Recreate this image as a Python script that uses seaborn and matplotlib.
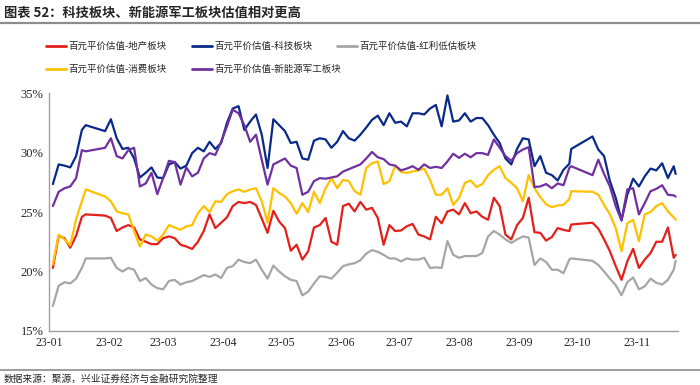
import matplotlib
matplotlib.use('Agg')
import matplotlib.pyplot as plt
import matplotlib.dates as mdates
from matplotlib.lines import Line2D
import pandas as pd
import seaborn as sns

# x grid: trading dates (holiday gaps give the flat runs)
dates = (list(pd.to_datetime(['2023-01-03', '2023-01-06', '2023-01-09', '2023-01-12',
                               '2023-01-15', '2023-01-18', '2023-01-20']))
         + list(pd.date_range('2023-01-30', '2023-09-27', freq='3D'))
         + [pd.Timestamp('2023-09-28')]
         + list(pd.date_range('2023-10-09', '2023-11-20', freq='3D'))
         + [pd.Timestamp('2023-11-21')])

# values in %
property_vals = [20.3, 23.0, 22.8, 22.0, 23.0, 24.6, 24.8,
                 24.7, 24.5, 23.4, 23.7, 23.9, 23.7, 22.7, 22.5, 22.3, 22.3,
                 22.8, 22.95, 22.8, 22.25, 22.1, 21.9, 22.5, 23.4,
                 24.8, 23.65, 24.1, 24.55, 25.5, 25.85, 25.75, 25.85, 25.6, 24.45,
                 23.25, 25.1, 24.2, 23.65, 21.75, 22.25, 21.0, 21.7, 23.7, 23.9,
                 24.5, 22.5, 22.25, 25.5, 25.7, 25.05,
                 25.85, 25.2, 25.35, 24.5, 22.25, 23.9, 23.4, 23.45, 23.8, 24.0,
                 23.1, 22.95, 22.7, 24.6, 24.05, 25.05, 25.2, 24.8, 25.75, 24.9,
                 25.05, 24.6, 24.35, 26.2, 25.5, 23.1, 22.7,
                 23.9, 24.5, 26.2, 23.3, 23.25, 22.6, 22.9, 23.65, 23.5, 23.4,
                 23.95, 24.1, 23.6, 22.7, 21.7, 20.45, 19.3, 20.85, 21.9, 20.3,
                 21.0, 21.55, 22.5, 22.5, 23.7, 21.15, 21.4]
tech_vals = [27.35, 29.0, 28.9, 28.75, 29.7, 31.9, 32.3,
             31.8, 32.8, 31.2, 30.3, 30.4, 29.5, 27.9, 28.3, 28.75, 27.9,
             27.85, 29.0, 29.2, 28.65, 28.9, 29.95, 30.4, 30.1,
             30.9, 30.3, 30.8, 32.5, 33.7, 33.9, 31.9, 32.6, 33.2, 31.5,
             28.7, 32.8, 32.3, 31.8, 30.8, 30.9, 29.5, 29.4, 31.0, 31.2,
             31.1, 30.4, 30.9, 31.8, 31.2, 31.0,
             31.5, 32.1, 32.75, 33.1, 32.3, 33.3, 32.5, 32.6, 32.2, 33.3,
             33.3, 33.2, 33.7, 34.0, 32.2, 34.8, 32.6, 32.7, 33.3, 32.6,
             32.9, 32.9, 32.3, 31.5, 30.8, 29.5, 29.0,
             30.3, 31.2, 31.1, 28.85, 29.7, 28.3, 28.1, 27.65, 28.55, 29.05,
             30.3, 31.35, 30.25, 29.7, 27.6, 26.2, 24.3, 26.45, 27.8, 27.15,
             28.0, 28.65, 28.5, 29.1, 27.85, 28.85, 28.2]
dividend_vals = [17.1, 18.8, 19.1, 19.0, 19.4, 20.3, 21.1,
                 21.1, 21.15, 20.3, 20.0, 20.3, 20.15, 19.2, 19.45, 18.9, 18.6,
                 18.5, 19.2, 19.3, 18.9, 19.1, 19.2, 19.45, 19.7,
                 19.55, 19.75, 19.45, 20.3, 20.45, 21.0, 20.8, 20.7, 21.0, 20.15,
                 19.4, 20.5, 20.0, 19.6, 19.3, 19.2, 18.0, 18.3, 19.0, 19.6,
                 19.55, 19.4, 19.9, 20.45, 20.6, 20.7,
                 20.95, 21.5, 21.8, 21.65, 21.4, 21.1, 21.1, 20.85, 21.1, 21.0,
                 21.0, 21.15, 20.3, 20.35, 20.3, 22.55, 21.4, 21.15, 21.3, 21.3,
                 21.3, 21.55, 22.95, 23.4, 23.1, 22.7, 22.4,
                 22.7, 22.95, 22.85, 20.55, 21.1, 20.8, 20.15, 20.15, 19.85, 21.0,
                 21.1, 20.9, 20.55, 20.0, 19.4, 18.85, 18.0, 19.1, 19.5, 18.5,
                 18.75, 19.4, 19.05, 18.9, 19.3, 20.15, 20.9]
consumer_vals = [20.6, 23.1, 22.7, 22.2, 24.4, 25.9, 26.9,
                 26.3, 25.9, 25.05, 24.9, 24.8, 23.4, 22.1, 23.1, 22.95, 22.6,
                 23.1, 23.9, 23.7, 23.5, 23.8, 23.9, 24.9, 25.5,
                 25.0, 25.9, 25.85, 26.5, 26.75, 26.9, 26.7, 26.9, 27.0, 25.9,
                 24.1, 27.0, 26.6, 26.3, 25.75, 24.85, 25.75, 25.0, 26.7, 25.75,
                 27.0, 27.85, 27.0, 27.7, 27.6, 26.75,
                 26.45, 28.7, 29.1, 29.25, 27.35, 27.6, 28.9, 28.35, 28.3, 28.4,
                 28.5, 28.65, 27.7, 26.45, 26.45, 27.0, 25.6, 26.2, 27.45, 27.65,
                 27.1, 27.35, 28.1, 28.55, 28.85, 27.85, 27.45,
                 27.0, 25.9, 28.1, 27.0, 26.25, 25.65, 25.4, 25.55, 25.6, 26.1,
                 26.75, 26.7, 26.45, 25.6, 24.8, 23.65, 21.7, 24.05, 24.35, 22.55,
                 24.8, 25.0, 25.5, 25.75, 25.05, 24.55, 24.35]
newenergy_vals = [25.5, 26.7, 27.0, 27.15, 27.85, 30.2, 30.1,
                  30.4, 31.2, 29.7, 29.5, 30.2, 30.4, 27.15, 27.4, 28.3, 26.5,
                  27.85, 29.3, 29.2, 27.3, 28.75, 28.0, 28.3, 29.5,
                  29.95, 29.8, 30.9, 32.2, 33.6, 33.3, 32.3, 30.9, 31.5, 29.4,
                  27.3, 29.0, 29.25, 29.5, 28.9, 28.7, 26.45, 26.7, 27.6, 27.85,
                  27.8, 27.9, 28.0, 28.4, 28.6, 28.8,
                  29.0, 29.5, 30.05, 29.6, 29.45, 29.0, 28.9, 28.5, 28.65, 28.85,
                  28.55, 29.0, 28.7, 28.8, 28.7, 29.25, 29.9, 29.55, 29.9, 29.6,
                  29.95, 29.95, 29.8, 31.1, 30.4, 29.7, 29.3,
                  29.95, 30.25, 30.45, 27.1, 27.15, 27.35, 27.0, 27.4, 27.25, 28.7,
                  28.85, 28.1, 29.4, 28.2, 27.15, 25.5, 24.3, 26.9, 27.0, 24.8,
                  25.75, 26.75, 26.95, 27.25, 26.45, 26.4, 26.3]

series_names = ['百元平价估值-地产板块', '百元平价估值-科技板块', '百元平价估值-红利低估板块',
                '百元平价估值-消费板块', '百元平价估值-新能源军工板块']
series_vals = [property_vals, tech_vals, dividend_vals, consumer_vals, newenergy_vals]
colors = ['#E3201B', '#0A2A8A', '#A6A6A6', '#FFC000', '#7030A0']

sns.set_style('white')
plt.rcParams['font.family'] = ['Noto Sans CJK SC', 'DejaVu Sans']
num_font = ['Liberation Serif', 'Noto Sans CJK SC']

fig = plt.figure(figsize=(7, 3.85), dpi=100)
ax = fig.add_axes([0.07, 0.1403, 0.898, 0.618])

for name, vals, c in zip(series_names, series_vals, colors):
    sns.lineplot(x=dates, y=vals, ax=ax, color=c, linewidth=1.6, label=name, legend=False)

ax.set_ylim(15, 35)
ax.set_yticks([15, 20, 25, 30, 35])
ax.set_yticklabels([f'{v}%' for v in [15, 20, 25, 30, 35]], family=num_font, fontsize=9)
ax.set_xlim(pd.Timestamp('2023-01-01'), pd.Timestamp('2023-11-22'))
ax.xaxis.set_major_locator(mdates.MonthLocator())
ax.xaxis.set_major_formatter(mdates.DateFormatter('%y-%m'))
for lab in ax.get_xticklabels():
    lab.set_family(num_font)
    lab.set_fontsize(8.5)
ax.tick_params(axis='both', direction='in', length=3, color='#A0A0A0', pad=4)
ax.tick_params(axis='y', length=0)
ax.set_xlabel('')
ax.set_ylabel('')
for s in ['top', 'right']:
    ax.spines[s].set_visible(False)
for s in ['left', 'bottom']:
    ax.spines[s].set_color('#A0A0A0')
    ax.spines[s].set_linewidth(1)

# legend, two rows laid out like the original
handles = [Line2D([], [], color=c, lw=2) for c in colors]
leg_kw = dict(frameon=False, fontsize=6.8, handlelength=2.1, handletextpad=0.3,
              columnspacing=2.6, borderaxespad=0, borderpad=0, loc='center left')
fig.legend(handles[:3], series_names[:3], ncol=3, bbox_to_anchor=(0.066, 0.879), **leg_kw)
fig.legend(handles[3:], series_names[3:], ncol=2, bbox_to_anchor=(0.066, 0.820), **leg_kw)

# title, rules and source note
fig.text(0.005, 0.968, '图表 52：科技板块、新能源军工板块估值相对更高', fontsize=9.5,
         fontweight='bold', va='center', ha='left')
fig.add_artist(Line2D([0, 1], [0.940, 0.940], color='#8C8C8C', lw=1.6))
fig.add_artist(Line2D([0, 1], [0.039, 0.039], color='#8C8C8C', lw=1.2))
fig.text(0.005, 0.017, '数据来源：聚源，兴业证券经济与金融研究院整理', fontsize=7,
         va='center', ha='left')

fig.savefig('out.png', dpi=100)
